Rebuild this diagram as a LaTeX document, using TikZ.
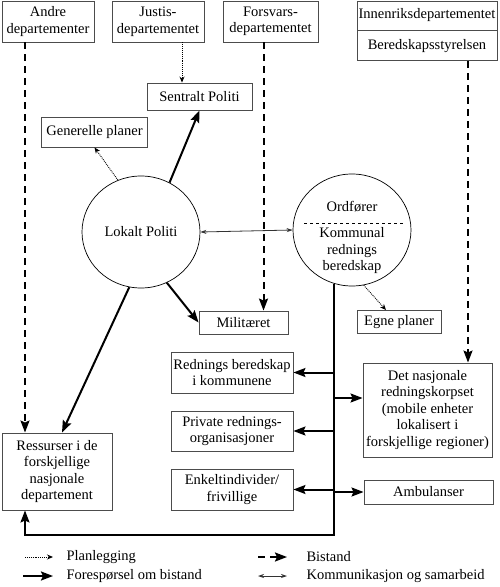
\documentclass[tikz,border=0pt]{standalone}
\usepackage{fontspec}
\setmainfont{Liberation Serif}
\usetikzlibrary{arrows.meta,shapes.geometric}

\begin{document}
\begin{tikzpicture}[x=1pt,y=-1pt,font=\fontsize{14.5}{16.5}\selectfont,
  box/.style args={#1/#2}{draw=black!70,line width=0.9pt,align=center,inner sep=1pt,minimum width=#1,minimum height=#2},
  sirkel/.style={ellipse,draw,line width=0.7pt,inner sep=0pt,minimum width=118pt,minimum height=112pt},
  plan/.style={densely dotted,line width=0.9pt,-{Stealth[length=6pt,width=5pt]}},
  foresp/.style={line width=2pt,-{Stealth[length=12pt,width=9pt,inset=2pt]}},
  bistand/.style={line width=2pt,dash pattern=on 7pt off 5pt,-{Stealth[length=12pt,width=9pt,inset=2pt]}},
  komm/.style={line width=0.8pt,black!80,{Stealth[length=6pt,width=4pt]}-{Stealth[length=6pt,width=4pt]}}]
  \useasboundingbox (0,0) rectangle (500,587);
  % departementer
  \node[box=92/41] (andre) at (48,21.5) {Andre\\departementer};
  \node[box=92/41] (justis) at (158,21.5) {Justis-\\departementet};
  \node[box=95/41] (forsvar) at (270.5,21.5) {Forsvars-\\departementet};
  \node[box=140/29] (innen) at (427,15.5) {Innenriksdepartementet};
  \node[box=140/30,anchor=north] (bered) at (innen.south) {Beredskapsstyrelsen};
  % politi og kommune
  \node[box=105/27] (sentralt) at (199.5,96.5) {Sentralt Politi};
  \node[box=106/30] (generelle) at (94.5,132) {Generelle planer};
  \node[sirkel] (lokalt) at (141,232) {Lokalt Politi};
  \node[sirkel] (ordf) at (352,230) {};
  \node (ordtekst) at (352,207) {Ordfører};
  \node[align=center] (kommtekst) at (352,251) {Kommunal\\rednings\\beredskap};
  \draw[dashed,line width=0.7pt] ([shift={(-48,-7)}]ordf.center) -- ([shift={(51,-7)}]ordf.center);
  \node[box=89/23] (mil) at (243.5,322.5) {Militæret};
  \node[box=84/23] (egne) at (399,322) {Egne planer};
  % ressurser
  \node[box=122/41] (redn) at (232,372.5) {Rednings beredskap\\i kommunene};
  \node[box=122/40] (priv) at (232,431) {Private rednings-\\organisasjoner};
  \node[box=122/41] (enkelt) at (232,489.5) {Enkeltindivider/\\frivillige};
  \node[box=129/94] (detnas) at (427.5,410) {Det nasjonale\\redningskorpset\\(mobile enheter\\lokalisert i\\forskjellige regioner)};
  \node[box=129/24] (ambul) at (428.5,492) {Ambulanser};
  \node[box=110/77] (ress) at (57,471.5) {Ressurser i de\\forskjellige\\nasjonale\\departement};

  % piler
  \draw[bistand] ([xshift=-23pt]andre.south) -- ([xshift=-23pt]andre.south |- ress.north);
  \draw[plan] ([xshift=24pt]justis.south) -- ([xshift=24pt]justis.south |- sentralt.north);
  \draw[bistand] ([xshift=-7pt]forsvar.south) -- ([xshift=-7pt]forsvar.south |- mil.north);
  \draw[bistand] ([xshift=41pt]bered.south) -- ([xshift=41pt]bered.south |- detnas.north);
  \draw[plan] (lokalt.114) -- (generelle.south);
  \draw[foresp] (lokalt.60) -- (sentralt.south);
  \draw[foresp] (lokalt.-63) -- (mil.west);
  \draw[foresp] (lokalt.-102) -- ([xshift=5pt]ress.north);
  \draw[komm] (lokalt.east) -- (ordf.west);
  \draw[plan] (ordf.-78) -- ([xshift=-13pt]egne.north);

  \coordinate (stamme) at (ordf.-109);
  \coordinate (bunn) at (0,535);
  \coordinate (dn) at ([yshift=12pt]detnas.west);
  \draw[foresp] (stamme) -- (stamme |- bunn) -| ([xshift=-32pt]ress.south);
  \foreach \n in {redn,priv,enkelt}
    \draw[foresp] (stamme |- \n.east) -- (\n.east);
  \draw[foresp] (stamme |- dn) -- (dn);
  \draw[foresp] (stamme |- ambul.west) -- (ambul.west);

  % forklaring
  \node[anchor=west] (l1) at (63,557) {Planlegging};
  \node[anchor=west] (l2) at (63,576) {Forespørsel om bistand};
  \node[anchor=west] (l3) at (303,557) {Bistand};
  \node[anchor=west] (l4) at (303,576) {Kommunikasjon og samarbeid};
  \draw[plan] ([xshift=-38pt]l1.west) -- ([xshift=-10pt]l1.west);
  \draw[foresp] ([xshift=-40pt]l2.west) -- ([xshift=-10pt]l2.west);
  \draw[bistand] ([xshift=-45pt]l3.west) -- ([xshift=-16pt]l3.west);
  \draw[komm] ([xshift=-45pt]l4.west) -- ([xshift=-16pt]l4.west);
\end{tikzpicture}
\end{document}
